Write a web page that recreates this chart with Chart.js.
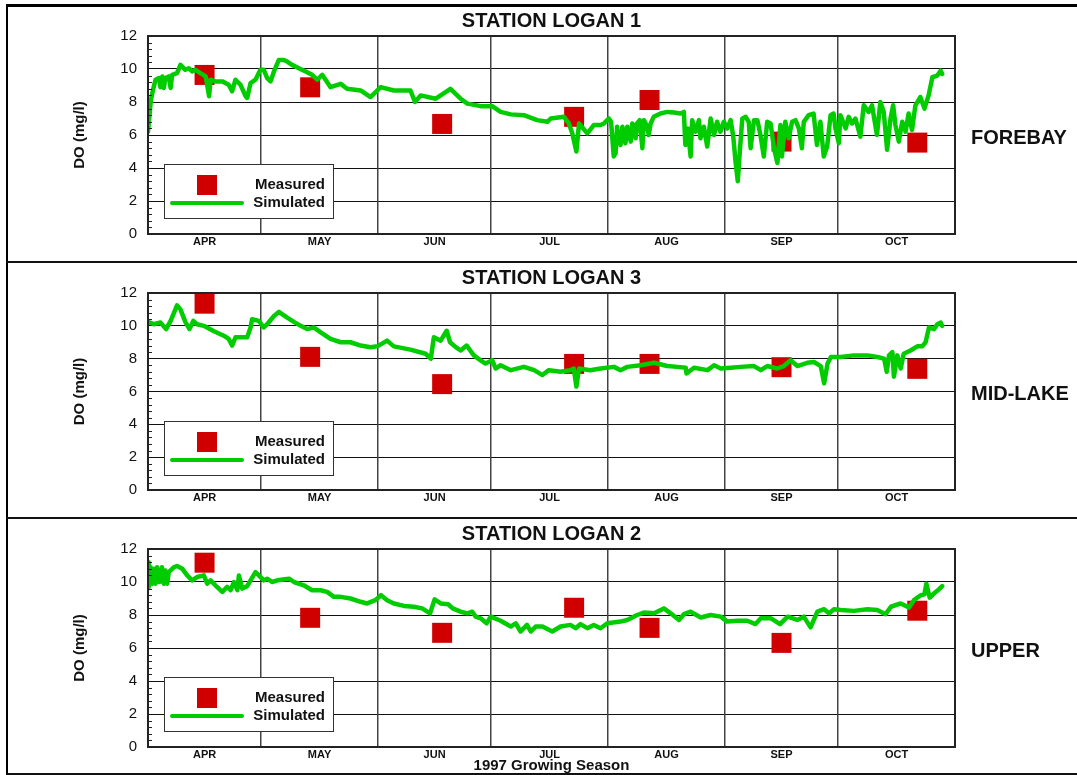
<!DOCTYPE html>
<html>
<head>
<meta charset="utf-8">
<title>Logan DO 1997</title>
<script src="https://cdn.jsdelivr.net/npm/chart.js@4.4.1/dist/chart.umd.min.js"></script>
<style>
  html, body { margin: 0; padding: 0; background: #fff; }
  body { width: 1077px; height: 775px; position: relative; overflow: hidden; }
  canvas { position: absolute; left: 0; }
  .frame { position: absolute; left: 6px; top: 4px; width: 1090px; height: 771px; box-sizing: border-box;
           border-top: 3px solid #000; border-left: 2px solid #000; border-bottom: 2px solid #111; pointer-events: none; }
  .divider { position: absolute; left: 6px; width: 1090px; height: 0; border-top: 2px solid #111; pointer-events: none; }
</style>
</head>
<body>
<canvas id="c1" width="1077" height="257" style="top:5px"></canvas>
<canvas id="c2" width="1077" height="256" style="top:262px"></canvas>
<canvas id="c3" width="1077" height="257" style="top:518px"></canvas>
<div class="frame"></div>
<div class="divider" style="top:261px"></div>
<div class="divider" style="top:517px"></div>

<script>
// ---- x axis: days since 1 April 1997 ----
const monthLabels = ['APR', 'MAY', 'JUN', 'JUL', 'AUG', 'SEP', 'OCT'];
const monthStarts = [0, 30, 61, 91, 122, 153, 183, 214];
const yTicks = [0, 2, 4, 6, 8, 10, 12];

// ---- measured samples (same sampling dates at every station) ----
const measuredDays = [15, 43, 78, 113, 133, 168, 204];
const forebayMeasured = [9.64, 8.89, 6.67, 7.10, 8.12, 5.60, 5.54];
const midlakeMeasured = [11.35, 8.11, 6.45, 7.68, 7.68, 7.48, 7.38];
const upperMeasured = [11.17, 7.83, 6.92, 8.44, 7.22, 6.31, 8.26];

// ---- simulated DO, Logan 1 (forebay) ----
const forebayDays = [0, 0.4, 0.7, 1.1, 1.5, 2.0, 2.9, 3.3, 3.8, 4.2, 4.6, 5.5, 6.0, 6.4, 7.7, 8.6, 9.9, 10.8, 11.7, 12.6,
  13.9, 15.3, 16.2, 16.6, 17.9, 19.7, 21.4, 22.3, 23.2, 24.5, 25.9, 26.3, 27.2, 28.5, 29.8, 30.7, 31.6, 32.5, 33.4, 34.7,
  36.0, 36.9, 38.2, 40.0, 41.8, 43.5, 44.9, 46.2, 48.4, 51.1, 52.8, 56.4, 59.0, 61.7, 65.2, 69.6, 70.8, 72.3, 76.3, 80.2,
  82.9, 84.7, 88.2, 91.3, 93.5, 96.2, 99.7, 103.2, 105.9, 106.8, 110.3, 111.6, 112.5, 113.6, 114.3, 116.5, 118.2, 120.0, 120.9, 122.2,
  122.8, 123.5, 124.0, 124.4, 124.9, 125.3, 125.8, 126.6, 127.1, 128.0, 128.4, 128.8, 129.3, 129.7, 130.4, 131.1, 131.5, 132.4, 132.8, 133.3,
  134.1, 135.9, 137.7, 139.5, 141.2, 142.1, 142.5, 143.1, 143.9, 144.3, 145.2, 146.1, 146.5, 147.4, 148.3, 149.2, 150.1, 150.9, 151.8, 152.7,
  153.6, 154.5, 155.2, 155.8, 156.4, 157.0, 157.6, 158.5, 159.3, 159.8, 160.7, 161.6, 162.4, 163.3, 164.2, 165.1, 166.0, 166.9, 167.7, 168.1,
  169.0, 169.9, 170.8, 171.7, 172.6, 173.4, 173.9, 175.2, 176.5, 177.4, 178.3, 179.2, 180.1, 181.0, 181.8, 182.3, 183.2, 183.6, 185.0, 185.8,
  186.7, 187.6, 188.9, 189.8, 191.1, 192.0, 193.3, 194.2, 195.1, 196.0, 196.9, 197.6, 198.2, 199.1, 200.0, 200.9, 201.7, 202.6, 203.5, 204.8,
  205.9, 207.0, 208.0, 209.3, 210.2, 210.6];
const forebayDO = [6.2, 7.2, 8.0, 8.5, 8.9, 9.35, 9.45, 8.9, 9.55, 8.85, 9.45, 9.55, 8.85, 9.65, 9.75, 10.25, 9.95, 10.05, 9.85, 9.95,
  9.75, 9.55, 8.35, 9.35, 9.25, 9.25, 9.05, 8.65, 9.35, 9.05, 8.35, 8.25, 9.15, 9.35, 9.95, 9.95, 9.45, 9.25, 9.85, 10.55,
  10.55, 10.45, 10.25, 10.05, 9.85, 9.65, 9.35, 9.65, 8.9, 9.1, 8.8, 8.7, 8.3, 8.9, 8.7, 8.7, 8.0, 8.4, 8.2, 8.8,
  8.2, 7.9, 7.75, 7.75, 7.4, 7.25, 7.2, 6.9, 6.8, 7.0, 7.1, 6.7, 6.1, 5.0, 6.7, 6.1, 6.6, 6.6, 6.7, 7.0,
  6.8, 4.7, 4.9, 6.5, 5.6, 5.4, 6.5, 5.5, 6.5, 5.6, 6.7, 6.6, 5.8, 6.7, 6.9, 5.2, 6.9, 6.5, 6.0, 6.7,
  7.1, 7.3, 7.4, 7.36, 7.3, 7.4, 5.4, 6.4, 4.7, 6.9, 6.2, 6.9, 5.8, 6.5, 5.3, 7.0, 6.0, 6.8, 6.2, 6.8,
  6.4, 6.9, 5.9, 4.4, 3.2, 5.2, 7.0, 7.1, 6.8, 5.2, 6.9, 6.9, 6.0, 4.7, 6.8, 6.7, 5.2, 4.3, 6.6, 4.7,
  6.8, 5.8, 6.8, 6.9, 6.4, 5.2, 6.8, 7.2, 7.3, 5.4, 6.8, 4.7, 5.3, 7.2, 7.3, 6.4, 5.5, 7.2, 6.4, 7.1,
  6.7, 7.0, 5.9, 7.8, 7.4, 7.8, 6.0, 8.0, 7.4, 5.1, 7.0, 7.8, 6.6, 5.6, 6.8, 6.2, 7.3, 6.3, 7.8, 8.3,
  7.6, 8.4, 9.5, 9.6, 9.9, 9.7];

// ---- simulated DO, Logan 3 (mid-lake) ----
const midlakeDays = [0, 1.5, 3.3, 4.8, 6.0, 7.7, 8.6, 9.9, 11.0, 12.0, 13.0, 14.8, 17.5, 20.1, 21.4, 22.3, 23.2, 26.3, 27.2, 27.6,
  29.4, 30.7, 31.6, 33.4, 34.7, 36.9, 38.7, 40.5, 42.2, 44.0, 45.8, 48.4, 51.1, 53.7, 56.4, 59.0, 60.8, 63.4, 65.2, 69.6,
  73.6, 75.0, 75.8, 77.6, 79.2, 80.1, 81.6, 82.9, 84.5, 86.4, 88.2, 89.5, 91.3, 92.2, 93.5, 96.2, 99.7, 102.4, 104.6, 106.3,
  109.4, 112.0, 112.9, 113.6, 114.3, 117.3, 120.0, 123.6, 125.3, 127.1, 130.6, 134.2, 137.7, 140.4, 142.6, 142.8, 144.8, 148.4, 150.1, 151.9,
  154.5, 157.1, 160.7, 162.5, 164.2, 166.9, 168.6, 170.4, 172.2, 174.8, 176.6, 178.4, 179.3, 180.2, 181.1, 183.7, 187.2, 190.8, 193.4, 195.2,
  195.9, 196.5, 197.4, 197.8, 198.7, 199.6, 200.4, 202.2, 204.0, 205.3, 206.2, 207.1, 208.4, 209.3, 210.2, 210.6];
const midlakeDO = [10.24, 10.1, 10.2, 9.8, 10.3, 11.25, 11.0, 10.24, 9.8, 10.3, 10.1, 10.0, 9.67, 9.4, 9.2, 8.8, 9.3, 9.3, 9.9, 10.4,
  10.3, 9.9, 10.1, 10.6, 10.85, 10.5, 10.24, 10.0, 9.8, 9.9, 9.6, 9.2, 9.0, 9.0, 8.8, 8.7, 8.75, 9.1, 8.75, 8.55,
  8.3, 8.0, 9.3, 9.1, 9.7, 9.0, 8.7, 8.5, 8.8, 8.2, 7.9, 7.7, 7.9, 7.4, 7.6, 7.3, 7.5, 7.3, 7.0, 7.3,
  7.2, 7.3, 7.4, 6.3, 7.4, 7.3, 7.4, 7.5, 7.3, 7.5, 7.6, 7.75, 7.55, 7.5, 7.45, 7.1, 7.45, 7.3, 7.6, 7.4,
  7.45, 7.5, 7.55, 7.3, 7.55, 7.4, 7.55, 7.9, 7.55, 7.75, 7.8, 7.55, 6.5, 7.7, 8.1, 8.1, 8.2, 8.2, 8.1, 8.0,
  7.2, 8.2, 8.4, 6.9, 8.2, 7.4, 8.3, 8.5, 8.75, 8.75, 9.0, 9.9, 9.8, 10.1, 10.2, 10.0];

// ---- simulated DO, Logan 2 (upper) ----
const upperDays = [0, 0.2, 0.7, 1.1, 1.5, 2.0, 2.4, 3.1, 3.7, 4.2, 4.6, 5.1, 5.5, 6.9, 7.7, 9.1, 10.4, 11.7, 13.0, 14.8,
  15.7, 16.6, 18.3, 19.7, 21.0, 21.9, 22.8, 23.7, 24.1, 25.0, 26.3, 27.2, 28.5, 29.4, 30.7, 31.6, 32.9, 34.3, 37.4, 38.7,
  41.3, 43.5, 45.8, 47.5, 49.3, 51.1, 53.7, 56.4, 58.1, 60.3, 61.8, 63.4, 65.2, 67.9, 70.5, 72.7, 74.8, 76.0, 77.6, 79.6,
  80.8, 82.9, 84.7, 86.0, 86.9, 88.2, 89.8, 90.9, 93.5, 96.2, 97.5, 98.8, 100.5, 101.5, 102.8, 104.6, 107.2, 109.4, 112.0, 113.4,
  114.7, 116.5, 118.2, 120.0, 121.8, 125.3, 127.1, 129.7, 131.5, 134.2, 136.8, 138.6, 140.8, 142.1, 143.9, 146.6, 149.2, 151.9, 153.6, 156.3,
  158.9, 161.1, 162.5, 165.2, 167.6, 169.6, 172.2, 173.9, 175.7, 177.5, 179.3, 180.6, 181.9, 183.7, 187.2, 190.8, 193.4, 195.6, 197.0, 199.6,
  201.8, 203.1, 204.9, 205.9, 206.4, 207.3, 208.4, 209.7, 210.6];
const upperDO = [11.2, 9.7, 10.9, 9.9, 10.8, 9.9, 10.9, 10.0, 10.9, 9.9, 10.7, 9.9, 10.6, 10.9, 10.97, 10.8, 10.4, 10.1, 10.3, 10.4,
  9.9, 10.1, 9.7, 9.4, 9.7, 9.5, 10.0, 9.5, 10.4, 9.6, 9.75, 10.1, 10.6, 10.4, 10.1, 10.2, 10.0, 10.1, 10.2, 10.0,
  9.8, 9.5, 9.5, 9.4, 9.1, 9.1, 9.0, 8.8, 8.7, 8.9, 9.2, 8.9, 8.7, 8.55, 8.5, 8.4, 8.1, 8.95, 8.7, 8.65,
  8.4, 8.2, 8.1, 8.2, 7.9, 7.8, 7.5, 7.9, 7.65, 7.3, 7.5, 7.0, 7.4, 7.0, 7.3, 7.3, 7.0, 7.3, 7.4, 7.2,
  7.45, 7.2, 7.4, 7.2, 7.5, 7.6, 7.7, 8.0, 8.15, 8.1, 8.4, 8.1, 7.7, 8.05, 8.2, 7.85, 8.0, 7.9, 7.6, 7.65,
  7.65, 7.45, 7.8, 7.8, 7.45, 7.9, 7.7, 7.9, 7.25, 8.2, 8.35, 8.1, 8.35, 8.3, 8.25, 8.35, 8.3, 8.05, 8.5, 8.7,
  8.45, 8.9, 9.2, 9.25, 9.9, 9.05, 9.3, 9.55, 9.75];

const GREEN = '#00CC00';
const RED = '#D00000';
const INK = '#111';
const FONT = '"Liberation Sans", Arial, Helvetica, sans-serif';

const monthMids = monthLabels.map((_, i) => (monthStarts[i] + monthStarts[i + 1]) / 2);
const toPoints = (xs, ys) => xs.map((x, i) => ({ x, y: ys[i] }));

// short inside tick marks between the labelled DO values
const minorTicks = {
  id: 'minorTicks',
  afterDraw(chart) {
    const ys = chart.scales.y, a = chart.chartArea, ctx = chart.ctx;
    ctx.save();
    ctx.strokeStyle = '#222';
    ctx.lineWidth = 1;
    for (let i = 1; i < 30; i++) {
      if (i % 5 === 0) continue;
      const p = Math.round(ys.getPixelForValue(i * 0.4)) + 0.5;
      ctx.beginPath();
      ctx.moveTo(a.left, p);
      ctx.lineTo(a.left + 4, p);
      ctx.stroke();
    }
    ctx.restore();
  }
};

// plot frame around the chart area
const plotFrame = {
  id: 'plotFrame',
  afterDatasetsDraw(chart) {
    const a = chart.chartArea, ctx = chart.ctx;
    ctx.save();
    ctx.strokeStyle = '#222';
    ctx.lineWidth = 2;
    ctx.strokeRect(a.left, a.top, a.right - a.left, a.bottom - a.top);
    ctx.restore();
  }
};

// station heading, centred over the plot
const stationTitle = {
  id: 'stationTitle',
  afterDraw(chart, args, opts) {
    const a = chart.chartArea, ctx = chart.ctx;
    ctx.save();
    ctx.fillStyle = INK;
    ctx.font = 'bold 20px ' + FONT;
    ctx.textAlign = 'center';
    ctx.textBaseline = 'middle';
    ctx.fillText(opts.text, (a.left + a.right) / 2, a.top - 14.5);
    ctx.restore();
  }
};

// boxed key in the lower-left of the plot
const boxLegend = {
  id: 'boxLegend',
  afterDraw(chart) {
    const a = chart.chartArea, ctx = chart.ctx;
    const x0 = a.left + 16, y0 = a.top + 128;
    ctx.save();
    ctx.fillStyle = '#fff';
    ctx.fillRect(x0, y0, 169, 54);
    ctx.strokeStyle = '#333';
    ctx.lineWidth = 1;
    ctx.strokeRect(x0 + 0.5, y0 + 0.5, 169, 54);
    ctx.fillStyle = RED;
    ctx.fillRect(x0 + 33, y0 + 11, 20, 20);
    ctx.strokeStyle = GREEN;
    ctx.lineWidth = 4;
    ctx.lineCap = 'round';
    ctx.beginPath();
    ctx.moveTo(x0 + 8, y0 + 39);
    ctx.lineTo(x0 + 78, y0 + 39);
    ctx.stroke();
    ctx.fillStyle = INK;
    ctx.font = 'bold 15px ' + FONT;
    ctx.textAlign = 'right';
    ctx.textBaseline = 'middle';
    ctx.fillText('Measured', x0 + 161, y0 + 21);
    ctx.fillText('Simulated', x0 + 161, y0 + 39);
    ctx.restore();
  }
};

// station location name to the right of the plot
const sideLabel = {
  id: 'sideLabel',
  afterDraw(chart, args, opts) {
    const a = chart.chartArea, ctx = chart.ctx;
    ctx.save();
    ctx.fillStyle = INK;
    ctx.font = 'bold 20px ' + FONT;
    ctx.textAlign = 'left';
    ctx.textBaseline = 'middle';
    ctx.fillText(opts.text, a.right + 16, (a.top + a.bottom) / 2 + 3);
    ctx.restore();
  }
};

function makeStation(canvasId, title, location, days, values, measured, seasonTitle) {
  const canvas = document.getElementById(canvasId);
  const xAxisHeight = 28;
  return new Chart(canvas, {
    type: 'scatter',
    data: {
      datasets: [
        {
          type: 'line',
          label: 'Simulated',
          data: toPoints(days, values),
          borderColor: GREEN,
          borderWidth: 4.5,
          borderJoinStyle: 'round',
          borderCapStyle: 'round',
          pointRadius: 0,
          fill: false,
          tension: 0,
          order: 0
        },
        {
          type: 'scatter',
          label: 'Measured',
          data: toPoints(measuredDays, measured),
          pointStyle: 'rect',
          pointRadius: 14.14,
          backgroundColor: RED,
          borderWidth: 0,
          order: 1
        }
      ]
    },
    options: {
      responsive: false,
      animation: false,
      events: [],
      layout: { padding: { left: 0, right: 122, top: 31, bottom: 0 } },
      plugins: {
        legend: { display: false },
        tooltip: { enabled: false },
        title: { display: false },
        stationTitle: { text: title },
        sideLabel: { text: location }
      },
      scales: {
        y: {
          min: 0,
          max: 12,
          afterBuildTicks: s => { s.ticks = yTicks.map(v => ({ value: v })); },
          afterFit: s => { s.width = 148; },
          ticks: { color: INK, font: { family: FONT, size: 15 }, padding: 11 },
          grid: { color: '#111', lineWidth: 1, drawTicks: false },
          border: { color: '#111', width: 2 },
          title: {
            display: true,
            text: 'DO (mg/l)',
            color: INK,
            font: { family: FONT, size: 15, weight: 'bold' },
            padding: { top: 71, bottom: 0 }
          }
        },
        x: {
          type: 'linear',
          position: 'bottom',
          weight: 0,
          min: monthStarts[0],
          max: monthStarts[monthStarts.length - 1],
          afterBuildTicks: s => { s.ticks = monthStarts.map(v => ({ value: v })); },
          afterFit: s => { s.height = 0; },
          ticks: { display: false },
          grid: { color: '#444', lineWidth: 1.5, drawTicks: false },
          border: { display: false }
        },
        months: {
          type: 'linear',
          position: 'bottom',
          weight: 1,
          min: monthStarts[0],
          max: monthStarts[monthStarts.length - 1],
          afterBuildTicks: s => { s.ticks = monthMids.map(v => ({ value: v })); },
          afterFit: s => { s.height = xAxisHeight; },
          ticks: {
            autoSkip: false,
            maxRotation: 0,
            padding: 1,
            color: INK,
            font: { family: FONT, size: 11, weight: 'bold' },
            callback: (v, i) => monthLabels[i]
          },
          grid: { display: false, drawTicks: false },
          border: { display: false },
          title: {
            display: !!seasonTitle,
            text: seasonTitle || '',
            color: INK,
            font: { family: FONT, size: 15, weight: 'bold' },
            padding: { top: 0, bottom: 0 }
          }
        }
      }
    },
    plugins: [minorTicks, plotFrame, stationTitle, boxLegend, sideLabel]
  });
}

makeStation('c1', 'STATION LOGAN 1', 'FOREBAY', forebayDays, forebayDO, forebayMeasured, null);
makeStation('c2', 'STATION LOGAN 3', 'MID-LAKE', midlakeDays, midlakeDO, midlakeMeasured, null);
makeStation('c3', 'STATION LOGAN 2', 'UPPER', upperDays, upperDO, upperMeasured, '1997 Growing Season');
</script>
</body>
</html>
